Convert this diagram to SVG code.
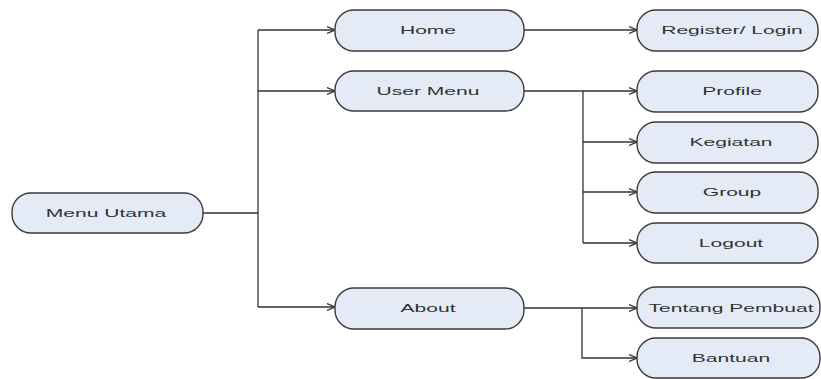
<svg xmlns="http://www.w3.org/2000/svg" width="821" height="379" viewBox="0 0 821 379">
<style>
.node rect{fill:#e4ebf7;stroke:#3a3a3a;stroke-width:1.4}
.node text{font-family:"Liberation Sans",Arial,sans-serif;font-size:11.2px;fill:#333;text-anchor:middle}
.conn path{fill:none;stroke:#333;stroke-width:1.3}
</style>
<defs>
<marker id="arr" viewBox="0 0 8 8" refX="8" refY="4" markerWidth="8" markerHeight="8" markerUnits="userSpaceOnUse" orient="auto">
<path d="M0,0.5 L8,4 L0,7.5" fill="none" stroke="#333" stroke-width="1.2"/>
</marker>
</defs>
<rect width="821" height="379" fill="#fff"/>
<g class="conn">
<path d="M203,213 H258"/>
<path d="M258,30 V307"/>
<path d="M258,30 H335" marker-end="url(#arr)"/>
<path d="M258,91 H335" marker-end="url(#arr)"/>
<path d="M258,307 H335" marker-end="url(#arr)"/>
<path d="M524,30 H637" marker-end="url(#arr)"/>
<path d="M524,91 H637" marker-end="url(#arr)"/>
<path d="M583,91 V243"/>
<path d="M583,142 H637" marker-end="url(#arr)"/>
<path d="M583,192 H637" marker-end="url(#arr)"/>
<path d="M583,243 H637" marker-end="url(#arr)"/>
<path d="M524,308 H637" marker-end="url(#arr)"/>
<path d="M582,308 V358 H637" marker-end="url(#arr)"/>
</g>
<g id="menu-utama" class="node"><rect x="12" y="193" width="191" height="40" rx="19"/><text transform="translate(106 217) scale(1.88 1)">Menu Utama</text></g>
<g id="home" class="node"><rect x="335" y="10" width="189" height="41" rx="19"/><text transform="translate(428 34) scale(1.88 1)">Home</text></g>
<g id="user-menu" class="node"><rect x="335" y="71" width="189" height="40" rx="19"/><text transform="translate(428 95) scale(1.88 1)">User Menu</text></g>
<g id="about" class="node"><rect x="335" y="288" width="189" height="41" rx="19"/><text transform="translate(428 312) scale(1.88 1)">About</text></g>
<g id="register-login" class="node"><rect x="637" y="10" width="181" height="41" rx="19"/><text transform="translate(732 34) scale(1.88 1)">Register/ Login</text></g>
<g id="profile" class="node"><rect x="637" y="71" width="181" height="41" rx="19"/><text transform="translate(732 95) scale(1.88 1)">Profile</text></g>
<g id="kegiatan" class="node"><rect x="637" y="122" width="181" height="41" rx="19"/><text transform="translate(731 146) scale(1.88 1)">Kegiatan</text></g>
<g id="group" class="node"><rect x="637" y="172" width="181" height="41" rx="19"/><text transform="translate(732 196) scale(1.88 1)">Group</text></g>
<g id="logout" class="node"><rect x="637" y="223" width="181" height="40" rx="19"/><text transform="translate(731 247) scale(1.88 1)">Logout</text></g>
<g id="tentang-pembuat" class="node"><rect x="637" y="287" width="183" height="41" rx="19"/><text transform="translate(731 312) scale(1.88 1)">Tentang Pembuat</text></g>
<g id="bantuan" class="node"><rect x="637" y="338" width="183" height="40" rx="19"/><text transform="translate(731 362) scale(1.88 1)">Bantuan</text></g>
</svg>
